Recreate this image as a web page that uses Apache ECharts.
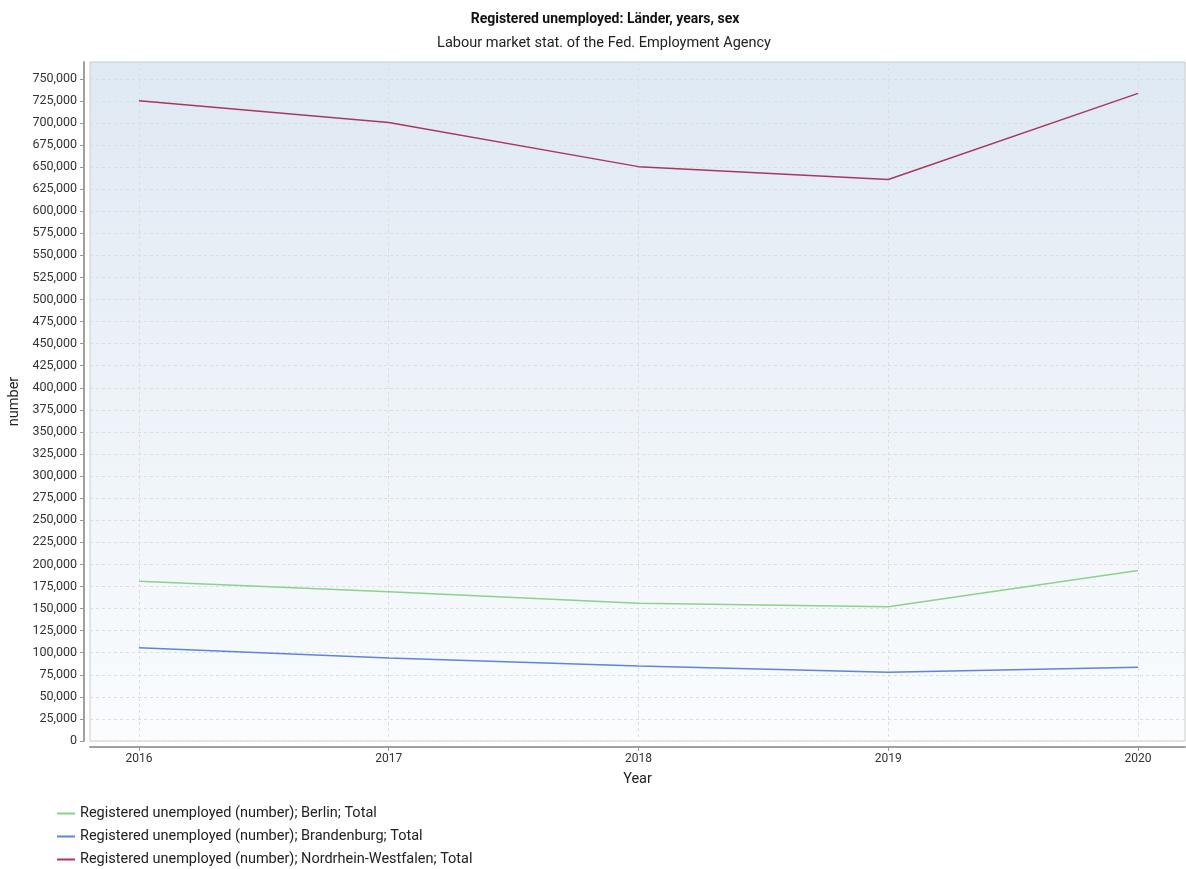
<!DOCTYPE html>
<html>
<head>
<meta charset="utf-8">
<script src="https://cdn.jsdelivr.net/npm/echarts@6/dist/echarts.min.js"></script>
<style>html,body{margin:0;padding:0;background:#fff}#c{width:1186px;height:869px}</style>
</head>
<body>
<div id="c"></div>
<script>
var years = [2016, 2017, 2018, 2019, 2020];
var berlin = [181000, 169000, 156000, 152000, 193000];
var brandenburg = [105500, 94000, 85000, 78000, 83500];
var nrw = [725000, 700500, 650500, 636000, 733500];
var seriesNames = [
  'Registered unemployed (number); Berlin; Total',
  'Registered unemployed (number); Brandenburg; Total',
  'Registered unemployed (number); Nordrhein-Westfalen; Total'
];
var yTicks = [];
for (var v = 0; v <= 750000; v += 25000) yTicks.push(v);

function pairs(vals){ return years.map(function(y,i){ return [y, vals[i]]; }); }

var chart = echarts.init(document.getElementById('c'), null, {renderer:'canvas'});
var font = 'Roboto, "Noto Sans", sans-serif';
chart.setOption({
  animation: false,
  title: [
    {text: 'Registered unemployed: Länder, years, sex', left: 600, top: 7, textAlign: 'center',
     textStyle: {fontFamily: font, fontSize: 14, fontWeight: 'bold', color: '#111'}},
    {text: 'Labour market stat. of the Fed. Employment Agency', left: 599, top: 31, textAlign: 'center',
     textStyle: {fontFamily: font, fontSize: 14.5, fontWeight: 'normal', color: '#222'}}
  ],
  color: ['#8bd38b', '#5f84dc', '#a8385f'],
  legend: {
    orient: 'vertical', left: 57, top: 805, padding: 0, height: 70,
    icon: 'rect', itemWidth: 18, itemHeight: 2, itemGap: 6,
    textStyle: {fontFamily: font, fontSize: 14.5, color: '#222', lineHeight: 17},
    data: seriesNames
  },
  grid: {
    left: 90, right: 1, top: 62, bottom: 128, containLabel: false, outerBoundsMode: 'none',
    show: true, borderColor: '#cccccc', borderWidth: 1,
    backgroundColor: new echarts.graphic.LinearGradient(0, 0, 0, 1, [
      {offset: 0, color: '#dfe9f3'}, {offset: 1, color: '#fafcfe'}
    ])
  },
  xAxis: {
    type: 'value', min: 2015.804, max: 2020.188, offset: 6,
    name: 'Year', nameLocation: 'middle', nameGap: 25,
    nameTextStyle: {fontFamily: font, fontSize: 14.5, color: '#222'},
    axisLine: {show: true, onZero: false, lineStyle: {color: '#a0a0a0', width: 2}},
    axisTick: {show: true, customValues: years, length: 4, lineStyle: {color: '#999'}},
    axisLabel: {customValues: years, fontFamily: font, fontSize: 12, color: '#333', margin: 6,
      formatter: function(v){ return String(Math.round(v)); }},
    splitLine: {show: true, lineStyle: {color: '#dddddd', type: [3, 3]}}
  },
  yAxis: {
    type: 'value', min: 0, max: 769000, offset: 6,
    name: 'number', nameLocation: 'middle', nameGap: 60, nameRotate: 90,
    nameTextStyle: {fontFamily: font, fontSize: 14.5, color: '#222'},
    axisLine: {show: true, onZero: false, lineStyle: {color: '#a0a0a0', width: 2}},
    axisTick: {show: true, customValues: yTicks, length: 4, lineStyle: {color: '#999'}},
    axisLabel: {customValues: yTicks, fontFamily: font, fontSize: 12.5, color: '#333', margin: 7,
      formatter: function(v){ return v.toLocaleString('en-US'); }},
    splitLine: {show: true, lineStyle: {color: '#dddddd', type: [3, 3]}}
  },
  series: [
    {name: seriesNames[0], type: 'line', data: pairs(berlin), symbol: 'none', lineStyle: {width: 1.5}},
    {name: seriesNames[1], type: 'line', data: pairs(brandenburg), symbol: 'none', lineStyle: {width: 1.5}},
    {name: seriesNames[2], type: 'line', data: pairs(nrw), symbol: 'none', lineStyle: {width: 1.5}}
  ]
});
</script>
</body>
</html>
